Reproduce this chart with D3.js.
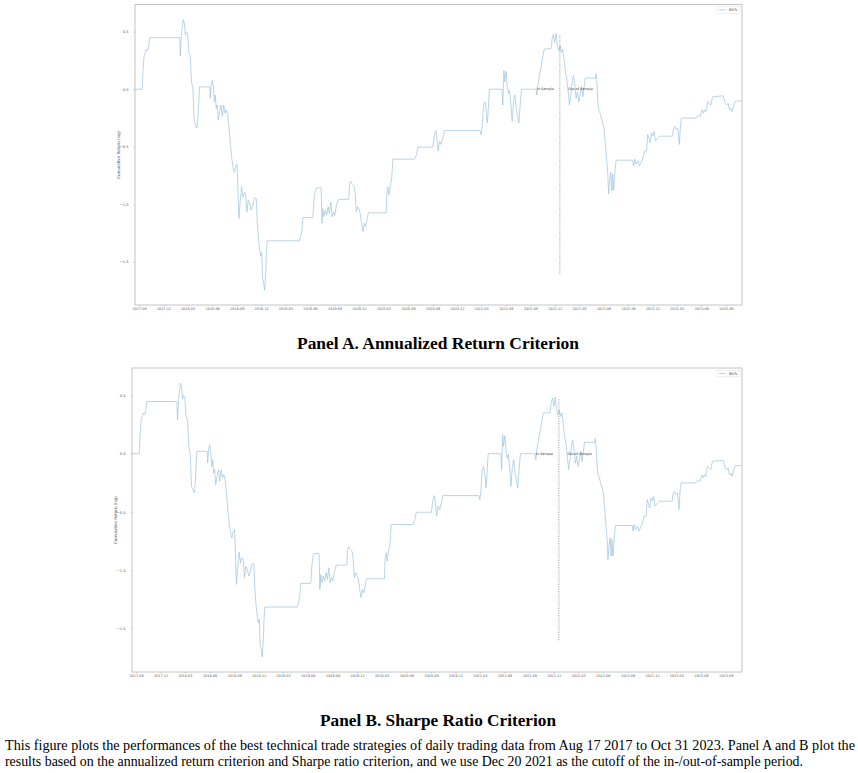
<!DOCTYPE html>
<html>
<head>
<meta charset="utf-8">
<script src="https://cdn.jsdelivr.net/npm/d3@7"></script>
<style>
  body { margin: 0; background: #fff; }
  svg { display: block; }
</style>
</head>
<body>
<svg id="fig" width="858" height="773"></svg>
<script>
// Dagen sinds de eerste waarneming (2017-08-17)
const tradingDay = [
  0, 27, 30, 34, 38, 42, 47, 51, 55, 167, 169, 173, 177, 180, 184, 188, 192, 196, 201, 206,
  211, 216, 221, 226, 231, 235, 241, 279, 281, 285, 289, 292, 296, 300, 303, 307, 311, 316, 321, 326,
  331, 336, 341, 346, 351, 356, 361, 366, 371, 376, 381, 384, 388, 393, 398, 403, 408, 413, 418, 423,
  428, 434, 440, 447, 453, 456, 460, 465, 469, 473, 476, 480, 484, 488, 490, 493, 614, 618, 623, 627,
  664, 668, 673, 677, 695, 698, 701, 705, 710, 716, 721, 726, 731, 736, 741, 746, 751, 759, 798, 801,
  805, 811, 817, 822, 826, 831, 836, 841, 846, 851, 856, 861, 866, 871, 938, 940, 944, 948, 953, 958,
  963, 1044, 1047, 1051, 1056, 1112, 1118, 1124, 1128, 1132, 1137, 1143, 1149, 1155, 1288, 1292, 1296, 1301, 1306, 1311,
  1315, 1318, 1323, 1370, 1373, 1377, 1380, 1385, 1389, 1394, 1398, 1404, 1408, 1413, 1418, 1423, 1428, 1433, 1438, 1443,
  1497, 1500, 1504, 1510, 1516, 1522, 1528, 1553, 1557, 1562, 1567, 1572, 1577, 1582, 1587, 1592, 1597, 1602, 1607, 1612,
  1617, 1622, 1627, 1632, 1637, 1642, 1647, 1652, 1657, 1662, 1667, 1672, 1676, 1681, 1719, 1721, 1724, 1727, 1731, 1736,
  1741, 1746, 1751, 1756, 1761, 1765, 1768, 1772, 1776, 1780, 1783, 1787, 1792, 1796, 1858, 1862, 1865, 1870, 1877, 1883,
  1889, 1895, 1902, 1910, 1914, 1918, 1923, 1928, 1933, 1938, 1943, 1948, 1953, 1960, 2007, 2010, 2015, 2020, 2026, 2032,
  2036, 2040, 2094, 2098, 2104, 2110, 2117, 2122, 2127, 2132, 2138, 2144, 2150, 2156, 2196, 2200, 2204, 2209, 2214, 2219,
  2224, 2229, 2234, 2240, 2266
];

// Cumulatief rendement (log) op die dagen; beide panelen tonen dezelfde curve
const cumReturn = [
  0, 0, 0.163, 0.29, 0.32, 0.349, 0.334, 0.377, 0.448, 0.448, 0.29, 0.463, 0.548, 0.606, 0.577, 0.469, 0.5, 0.491, 0.32, 0.291,
  0.063, 0.006, -0.28, -0.308, -0.337, -0.251, 0.02, 0.02, -0.08, 0.049, 0.077, 0.034, -0.109, -0.051, -0.166, -0.137, -0.266, -0.194, -0.137, -0.237,
  -0.137, -0.208, -0.18, -0.223, -0.337, -0.48, -0.594, -0.68, -0.722, -0.666, -0.651, -0.851, -1.123, -0.966, -0.846, -0.937, -0.894, -0.908, -1.065, -0.966,
  -0.994, -1.051, -1.008, -0.943, -0.951, -1.137, -1.28, -1.394, -1.451, -1.42, -1.637, -1.68, -1.746, -1.594, -1.451, -1.317, -1.317, -1.28, -1.228, -1.114,
  -1.114, -0.966, -0.88, -0.857, -0.857, -1.165, -1.037, -1.108, -1.051, -1.094, -1.022, -1.08, -0.98, -1.108, -1.065, -1.094, -1.022, -0.957, -0.957, -0.823,
  -0.8, -0.823, -0.837, -0.908, -1.065, -1.022, -1.045, -1.08, -1.165, -1.237, -1.165, -1.194, -1.137, -1.074, -1.074, -0.908, -0.85, -0.923, -0.837, -0.78,
  -0.608, -0.608, -0.594, -0.566, -0.503, -0.503, -0.394, -0.36, -0.451, -0.537, -0.451, -0.48, -0.423, -0.36, -0.36, -0.394, -0.323, -0.137, -0.108, -0.18,
  -0.294, -0.208, 0, 0, -0.137, 0.163, 0.063, 0.154, 0.034, -0.037, -0.009, -0.152, -0.28, -0.108, -0.051, -0.166, -0.223, -0.294, -0.137, 0,
  0, -0.051, 0.034, 0.12, 0.191, 0.277, 0.349, 0.354, 0.434, 0.477, 0.406, 0.486, 0.377, 0.334, 0.377, 0.32, 0.349, 0.248, 0.148, 0.092,
  -0.023, -0.137, -0.051, 0.063, 0.12, 0.034, -0.08, -0.023, -0.108, -0.051, 0.02, -0.066, 0.006, 0.097, 0.097, 0.134, 0.063, -0.08, -0.18, -0.208,
  -0.251, -0.294, -0.337, -0.48, -0.623, -0.737, -0.908, -0.794, -0.722, -0.88, -0.737, -0.88, -0.709, -0.617, -0.617, -0.666, -0.608, -0.651, -0.623, -0.666,
  -0.637, -0.608, -0.537, -0.537, -0.394, -0.423, -0.466, -0.38, -0.408, -0.366, -0.451, -0.437, -0.423, -0.408, -0.408, -0.337, -0.323, -0.351, -0.337, -0.48,
  -0.323, -0.251, -0.251, -0.237, -0.229, -0.237, -0.18, -0.208, -0.18, -0.194, -0.108, -0.123, -0.137, -0.066, -0.057, -0.094, -0.123, -0.137, -0.123, -0.18,
  -0.166, -0.194, -0.152, -0.103, -0.103
];

// As-labels
const xTickLabels = [
  "2017-09", "2017-12", "2018-03", "2018-06", "2018-09", "2018-12", "2019-03", "2019-06", "2019-09",
  "2019-12", "2020-03", "2020-06", "2020-09", "2020-12", "2021-03", "2021-06", "2021-09", "2021-12",
  "2022-03", "2022-06", "2022-09", "2022-12", "2023-03", "2023-06", "2023-09"
];
const yTicks = [0.5, 0.0, -0.5, -1.0, -1.5];

const startDate = "2017-08-17";
const endDate = "2023-10-31";
const cutoffDate = "2021-12-20";
const legendLabel = "BHTs";
const yLabel = "Cumulative Return (log)";
const panelTitles = ["Panel A. Annualized Return Criterion", "Panel B. Sharpe Ratio Criterion"];
const noteLines = [
  "This figure plots the performances of the best technical trade strategies of daily trading data from Aug 17 2017 to Oct 31 2023. Panel A and B plot the",
  "results based on the annualized return criterion and Sharpe ratio criterion, and we use Dec 20 2021 as the cutoff of the in-/out-of-sample period."
];

const parseDay = d3.utcParse("%Y-%m-%d");
const parseMonth = d3.utcParse("%Y-%m");
const start = parseDay(startDate);

// Reeks opbouwen uit de twee arrays
const series = tradingDay.map((d, i) => ({ date: d3.utcDay.offset(start, d), value: cumReturn[i] }));

const svg = d3.select("#fig");
svg.append("rect").attr("width", 858).attr("height", 773).attr("fill", "#fff");

const lineColor = "#9cc3dd";

// Plaats van beide panelen in de figuur
const panels = [
  { left: 135, right: 742, top: 4.5, bottom: 305, titleY: 349, titleW: 282 },
  { left: 132, right: 742, top: 368, bottom: 672, titleY: 726, titleW: 236 }
];

function drawPanel(box, title) {
  const g = svg.append("g");

  const x = d3.scaleUtc()
    .domain([start, parseDay(endDate)])
    .range([box.left, box.right]);

  const y = d3.scaleLinear()
    .domain([-1.875, 0.736])
    .range([box.bottom, box.top]);

  // kader
  g.append("rect")
    .attr("x", box.left)
    .attr("y", box.top)
    .attr("width", box.right - box.left)
    .attr("height", box.bottom - box.top)
    .attr("fill", "none")
    .attr("stroke", "#c4c4c4")
    .attr("stroke-width", 1);

  // x-as
  const xAxis = g.append("g")
    .attr("transform", `translate(0,${box.bottom})`)
    .call(d3.axisBottom(x)
      .tickValues(xTickLabels.map(parseMonth))
      .tickFormat(d3.utcFormat("%Y-%m"))
      .tickSize(1.5)
      .tickPadding(1.3));
  xAxis.select(".domain").remove();
  xAxis.selectAll("line").attr("stroke", "#999").attr("stroke-width", 0.4);
  xAxis.selectAll("text")
    .attr("font-size", 3.4)
    .attr("font-family", "DejaVu Sans")
    .attr("fill", "#555");

  // y-as
  const yAxis = g.append("g")
    .attr("transform", `translate(${box.left},0)`)
    .call(d3.axisLeft(y)
      .tickValues(yTicks)
      .tickFormat(d => d.toFixed(1).replace("-", "\u2212"))
      .tickSize(1.5)
      .tickPadding(5));
  yAxis.select(".domain").remove();
  yAxis.selectAll("line").attr("stroke", "#999").attr("stroke-width", 0.4);
  yAxis.selectAll("text")
    .attr("font-size", 3.6)
    .attr("font-family", "DejaVu Sans")
    .attr("fill", "#555");

  g.append("text")
    .attr("transform", `translate(${box.left - 15},${(box.top + box.bottom) / 2}) rotate(-90)`)
    .attr("text-anchor", "middle")
    .attr("font-size", 4)
    .attr("font-family", "DejaVu Sans")
    .attr("fill", "#555")
    .text(yLabel);

  // curve
  const line = d3.line()
    .x(d => x(d.date))
    .y(d => y(d.value));

  g.append("path")
    .datum(series)
    .attr("d", line)
    .attr("fill", "none")
    .attr("stroke", lineColor)
    .attr("stroke-width", 0.7)
    .attr("stroke-linejoin", "round");

  // grens in-/out-of-sample
  const cx = x(parseDay(cutoffDate));
  g.append("line")
    .attr("x1", cx).attr("x2", cx)
    .attr("y1", y(0.47)).attr("y2", y(-1.61))
    .attr("stroke", "#777")
    .attr("stroke-width", 0.6)
    .attr("stroke-dasharray", "1.3,1.1");

  g.append("text")
    .attr("x", cx - 6)
    .attr("y", y(0) + 1.2)
    .attr("text-anchor", "end")
    .attr("font-size", 3.4)
    .attr("font-family", "DejaVu Sans")
    .attr("fill", "#333")
    .text("In-Sample");

  g.append("text")
    .attr("x", cx + 8.5)
    .attr("y", y(0) + 1.2)
    .attr("font-size", 3.4)
    .attr("font-family", "DejaVu Sans")
    .attr("fill", "#333")
    .text("Out-of-Sample");

  // legenda
  g.append("rect")
    .attr("x", box.right - 25)
    .attr("y", box.top + 2.2)
    .attr("width", 23)
    .attr("height", 6.6)
    .attr("fill", "#fff")
    .attr("stroke", "#ddd")
    .attr("stroke-width", 0.5);
  g.append("line")
    .attr("x1", box.right - 23).attr("x2", box.right - 16)
    .attr("y1", box.top + 5.5).attr("y2", box.top + 5.5)
    .attr("stroke", lineColor)
    .attr("stroke-width", 0.7);
  g.append("text")
    .attr("x", box.right - 13)
    .attr("y", box.top + 6.7)
    .attr("font-size", 3.4)
    .attr("font-family", "DejaVu Sans")
    .attr("fill", "#444")
    .text(legendLabel);

  // paneltitel
  svg.append("text")
    .attr("x", 438 - box.titleW / 2)
    .attr("y", box.titleY)
    .attr("font-family", "Liberation Serif")
    .attr("font-weight", "bold")
    .attr("font-size", 17)
    .attr("fill", "#000")
    .attr("textLength", box.titleW)
    .attr("lengthAdjust", "spacingAndGlyphs")
    .text(title);
}

panels.forEach((p, i) => drawPanel(p, panelTitles[i]));

// toelichting onder de figuur
const noteWidths = [850, 798];
noteLines.forEach((t, i) => {
  svg.append("text")
    .attr("x", 5)
    .attr("y", 750 + i * 16)
    .attr("font-family", "Liberation Serif")
    .attr("font-size", 14)
    .attr("fill", "#000")
    .attr("textLength", noteWidths[i])
    .attr("lengthAdjust", "spacingAndGlyphs")
    .text(t);
});
</script>
</body>
</html>
